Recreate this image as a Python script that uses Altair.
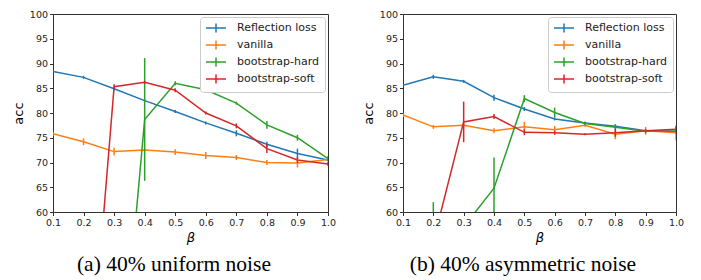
import altair as alt
import pandas as pd

betas = [0.1, 0.2, 0.3, 0.4, 0.5, 0.6, 0.7, 0.8, 0.9, 1.0]
series_names = ["Reflection loss", "vanilla", "bootstrap-hard", "bootstrap-soft"]
colors = ["#1f77b4", "#ff7f0e", "#2ca02c", "#d62728"]

# (a) 40% uniform noise
a_refl = [88.4, 87.2, 84.9, 82.5, 80.3, 78.0, 75.9, 73.7, 71.8, 70.5]
a_refl_err = [0.2, 0.3, 0.4, 0.2, 0.3, 0.3, 0.6, 0.5, 1.0, 0.3]
a_van = [75.8, 74.2, 72.2, 72.5, 72.1, 71.4, 71.0, 70.0, 69.9, 70.6]
a_van_err = [0.4, 0.7, 0.8, 0.3, 0.6, 0.7, 0.5, 0.5, 0.9, 0.3]
a_hard = [10.0, 10.0, 10.0, 78.7, 86.0, 84.7, 82.0, 77.6, 75.0, 70.8]
a_hard_err = [0.3, 0.3, 0.3, 12.4, 0.4, 0.3, 0.3, 0.8, 0.6, 0.5]
a_soft = [10.0, 10.0, 85.3, 86.2, 84.6, 80.0, 77.4, 72.8, 70.5, 69.7]
a_soft_err = [0.3, 0.3, 0.5, 0.3, 0.4, 0.3, 0.5, 0.9, 0.6, 0.4]

# (b) 40% asymmetric noise
b_refl = [85.6, 87.3, 86.4, 83.1, 80.8, 78.8, 78.0, 77.3, 76.4, 76.3]
b_refl_err = [0.2, 0.4, 0.3, 0.6, 0.4, 0.3, 0.3, 0.4, 0.3, 0.3]
b_van = [79.6, 77.2, 77.5, 76.4, 77.2, 76.6, 77.5, 75.7, 76.4, 76.0]
b_van_err = [0.4, 0.4, 0.4, 0.5, 1.0, 0.8, 0.3, 1.0, 0.8, 1.5]
b_hard = [10.0, 52.0, 57.0, 64.8, 82.9, 80.1, 77.9, 77.1, 76.3, 76.3]
b_hard_err = [0.3, 10.0, 0.5, 6.2, 0.7, 1.0, 0.3, 0.6, 0.4, 0.4]
b_soft = [10.0, 54.0, 78.2, 79.3, 76.1, 76.0, 75.7, 76.0, 76.4, 76.7]
b_soft_err = [0.3, 0.5, 4.1, 0.5, 0.6, 0.4, 0.2, 0.8, 0.3, 0.6]

x_ticks = [0.1, 0.2, 0.3, 0.4, 0.5, 0.6, 0.7, 0.8, 0.9, 1.0]
y_ticks = [60, 65, 70, 75, 80, 85, 90, 95, 100]


def make_df(vals, errs):
    rows = []
    for name, v, e in zip(series_names, vals, errs):
        for b, y, er in zip(betas, v, e):
            rows.append({"beta": b, "acc": y, "lo": y - er, "hi": y + er, "series": name})
    return pd.DataFrame(rows)


legend = alt.Legend(
    title=None, orient="top-right", offset=3,
    symbolType="M-1,0L3,0M1,-0.9L1,0.9", symbolSize=100, symbolStrokeWidth=1.5,
    symbolFillColor="transparent",
    labelFontSize=11, labelFont="DejaVu Sans", labelColor="#222", labelOffset=20,
    rowPadding=1, padding=5, strokeColor="#cccccc", fillColor="white", cornerRadius=3,
)

x_axis = alt.Axis(values=x_ticks, format=".1f", title="β", titleFontStyle="italic",
                  labelOverlap=False, labelFlush=False, tickCount=10)
y_axis = alt.Axis(values=y_ticks, title="acc", labelOverlap=False, labelFlush=False, tickCount=9)


def panel(df, caption, width):
    color = alt.Color("series:N", scale=alt.Scale(domain=series_names, range=colors), legend=legend)
    xscale = alt.Scale(domain=[0.1, 1.0], nice=False)
    yscale = alt.Scale(domain=[60, 100], nice=False)
    line = alt.Chart(df).mark_line(clip=True, strokeWidth=1.5).encode(
        x=alt.X("beta:Q", scale=xscale, axis=x_axis),
        y=alt.Y("acc:Q", scale=yscale, axis=y_axis),
        color=color, order="beta:Q")
    err = alt.Chart(df).mark_rule(clip=True, strokeWidth=1.5).encode(
        x=alt.X("beta:Q", scale=xscale, axis=x_axis),
        y=alt.Y("lo:Q", scale=yscale, axis=y_axis),
        y2="hi:Q", color=color)
    return alt.layer(line, err).properties(
        width=width, height=198,
        title=alt.TitleParams(caption, orient="bottom", anchor="middle", frame="bounds",
                              font="Liberation Serif", fontSize=21.5, fontWeight="normal",
                              color="#000", offset=10),
    )


left = panel(make_df([a_refl, a_van, a_hard, a_soft], [a_refl_err, a_van_err, a_hard_err, a_soft_err]),
             "(a) 40% uniform noise", 275)
right = panel(make_df([b_refl, b_van, b_hard, b_soft], [b_refl_err, b_van_err, b_hard_err, b_soft_err]),
              "(b) 40% asymmetric noise", 273)

chart = alt.hconcat(left, right, spacing=24).resolve_legend(color="independent").properties(
    padding={"left": 3, "top": 0, "right": 0, "bottom": 0}
).configure_view(stroke="#333", strokeWidth=1).configure_axis(
    labelFont="DejaVu Sans", labelFontSize=9.5, labelColor="#222",
    titleFont="DejaVu Sans", titleFontSize=13, titleFontWeight="normal", titleColor="#000",
    domainColor="#333", tickColor="#333", tickSize=3.5, labelPadding=2, titlePadding=4, grid=False,
)

chart.save("out.html", embed_options={"renderer": "svg", "actions": False})
